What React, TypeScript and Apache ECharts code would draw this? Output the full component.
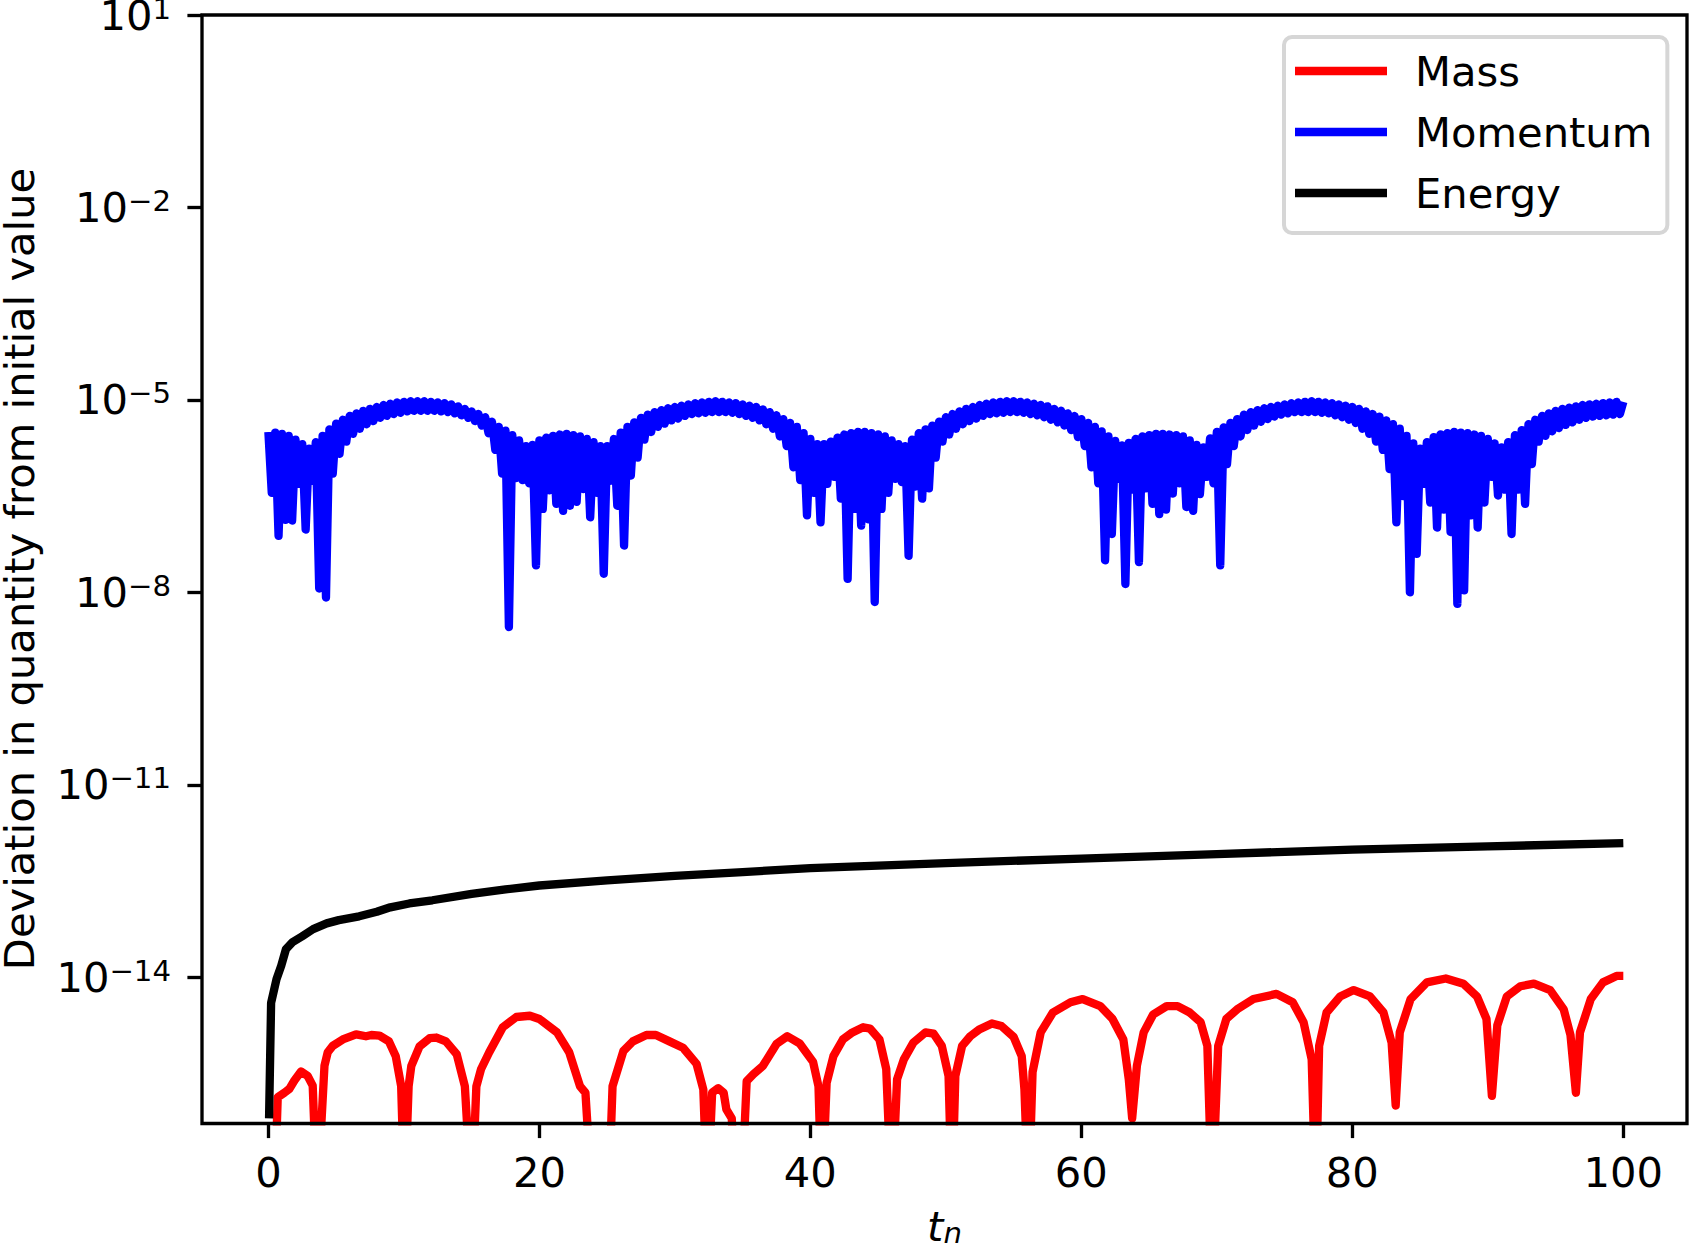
import React, { useEffect, useRef } from 'react';
import * as echarts from 'echarts';

// ---------- data (y values are log10 of the deviation) ----------
const seriesNames = ['Mass', 'Momentum', 'Energy'];
const seriesColors = ['#ff0000', '#0000ff', '#000000'];
const xTicks = [0, 20, 40, 60, 80, 100];
const yTickExponents = [-14, -11, -8, -5, -2, 1];
const xTitle = 't_n';
const yTitle = 'Deviation in quantity from initial value';

// Mass: [t, log10(deviation)]; -17.5 = dropped below the axis (exact zero)
const massSamples: [number, number][] = [
  [0.44, -17.5], [0.69, -15.87], [1.18, -15.8], [1.55, -15.74], [1.92, -15.61], [2.41, -15.47], [2.9, -15.54], [3.27, -15.69],
  [3.6, -17.5], [4.14, -15.38], [4.38, -15.17], [4.75, -15.07], [5.49, -14.97], [6.47, -14.89], [7.2, -14.92], [7.6, -14.9],
  [8.2, -14.91], [8.9, -15.0], [9.4, -15.23], [9.8, -15.7], [10.05, -17.5], [10.35, -15.7], [10.55, -15.38], [11.15, -15.08],
  [11.9, -14.95], [12.4, -14.94], [13.1, -15.0], [13.9, -15.2], [14.5, -15.7], [15.0, -17.5], [15.35, -15.7], [15.7, -15.43],
  [16.3, -15.17], [17.3, -14.78], [18.3, -14.62], [19.3, -14.6], [20.0, -14.65], [21.3, -14.86], [22.2, -15.17], [23.0, -15.7],
  [23.4, -15.8], [23.9, -17.5], [25.1, -17.5], [25.4, -15.7], [26.2, -15.15], [26.9, -15.0], [27.9, -14.9], [28.6, -14.9],
  [29.6, -15.0], [30.6, -15.1], [31.6, -15.35], [32.1, -15.75], [32.4, -17.5], [32.75, -15.8], [33.2, -15.73], [33.6, -15.8],
  [33.8, -16.06], [34.2, -16.2], [34.5, -17.5], [34.9, -17.5], [35.3, -15.62], [35.8, -15.51], [36.5, -15.38], [37.5, -15.04],
  [38.3, -14.92], [39.2, -15.03], [40.2, -15.32], [40.6, -15.7], [40.85, -17.5], [41.2, -15.65], [41.7, -15.23], [42.4, -14.97],
  [43.1, -14.86], [43.9, -14.78], [44.4, -14.8], [45.1, -14.97], [45.6, -15.43], [46.0, -17.5], [46.4, -15.59], [46.9, -15.28],
  [47.6, -15.02], [48.5, -14.86], [49.1, -14.88], [49.7, -15.07], [50.2, -15.54], [50.45, -17.5], [50.7, -15.54], [51.2, -15.07],
  [51.8, -14.92], [52.5, -14.81], [53.4, -14.72], [54.1, -14.76], [55.0, -14.93], [55.6, -15.23], [55.8, -15.75], [56.1, -17.5],
  [56.4, -15.48], [57.0, -14.86], [57.9, -14.55], [59.2, -14.39], [60.1, -14.34], [61.4, -14.45], [62.3, -14.65], [63.1, -14.97],
  [63.5, -15.59], [63.75, -16.2], [64.1, -15.38], [64.6, -14.86], [65.3, -14.58], [66.3, -14.45], [67.1, -14.45], [68.0, -14.55],
  [68.8, -14.7], [69.3, -15.07], [69.65, -17.5], [70.1, -15.07], [70.7, -14.65], [71.5, -14.5], [72.7, -14.34], [74.4, -14.26],
  [75.6, -14.39], [76.4, -14.7], [77.0, -15.28], [77.3, -17.5], [77.55, -15.07], [78.1, -14.55], [79.1, -14.3], [80.1, -14.2],
  [81.3, -14.3], [82.3, -14.55], [82.9, -15.02], [83.2, -16.0], [83.5, -14.86], [84.3, -14.34], [85.5, -14.08], [86.9, -14.02],
  [88.2, -14.1], [89.2, -14.3], [89.9, -14.65], [90.3, -15.85], [90.7, -14.75], [91.4, -14.3], [92.4, -14.14], [93.4, -14.1],
  [94.6, -14.2], [95.6, -14.5], [96.1, -14.9], [96.5, -15.8], [96.8, -14.86], [97.6, -14.34], [98.5, -14.08], [99.5, -13.98],
  [100, -13.98],
];

// Energy: [t, log10(deviation)]
const energySamples: [number, number][] = [
  [0.05, -16.2], [0.2, -14.4], [0.6, -14.03], [0.95, -13.82], [1.3, -13.56], [1.8, -13.45], [2.5, -13.36], [3.3, -13.25],
  [4.3, -13.16], [5.2, -13.11], [6.7, -13.05], [8.0, -12.98], [9.0, -12.91], [10.4, -12.85], [12.1, -12.8], [15.0, -12.7],
  [17.5, -12.63], [20.0, -12.57], [25.0, -12.49], [30.0, -12.42], [35.0, -12.36], [40.0, -12.3], [50.0, -12.22],
  [60.0, -12.15], [70.0, -12.08], [80.0, -12.01], [90.0, -11.96], [100.0, -11.91],
];

// Momentum oscillates rapidly: local maxima at t = 0, 0.5, ..., 100 and
// local minima at t = 0.25, 0.75, ..., 99.75 (log10 values)
const MOMENTUM_STEP = 0.5;
const momentumPeaks = [
  -5.50, -5.51, -5.53, -5.56, -5.62, -5.69, -5.76, -5.66, -5.56, -5.46,
  -5.37, -5.31, -5.25, -5.21, -5.17, -5.14, -5.11, -5.08, -5.06, -5.04,
  -5.03, -5.02, -5.02, -5.02, -5.03, -5.04, -5.05, -5.07, -5.10, -5.14,
  -5.18, -5.22, -5.27, -5.34, -5.42, -5.48, -5.55, -5.63, -5.72, -5.70,
  -5.63, -5.59, -5.56, -5.54, -5.53, -5.55, -5.57, -5.61, -5.66, -5.72,
  -5.72, -5.61, -5.51, -5.42, -5.35, -5.28, -5.23, -5.19, -5.16, -5.13,
  -5.11, -5.09, -5.07, -5.05, -5.04, -5.03, -5.02, -5.03, -5.04, -5.05,
  -5.07, -5.09, -5.11, -5.15, -5.19, -5.24, -5.30, -5.36, -5.42, -5.52,
  -5.61, -5.69, -5.69, -5.65, -5.59, -5.54, -5.52, -5.50, -5.50, -5.52,
  -5.54, -5.57, -5.63, -5.69, -5.72, -5.62, -5.52, -5.46, -5.40, -5.34,
  -5.27, -5.22, -5.18, -5.14, -5.11, -5.08, -5.06, -5.04, -5.03, -5.02,
  -5.02, -5.03, -5.04, -5.06, -5.08, -5.10, -5.14, -5.17, -5.21, -5.25,
  -5.30, -5.36, -5.42, -5.49, -5.57, -5.64, -5.71, -5.67, -5.61, -5.57,
  -5.55, -5.53, -5.53, -5.54, -5.55, -5.57, -5.63, -5.70, -5.74, -5.60,
  -5.50, -5.43, -5.36, -5.30, -5.23, -5.19, -5.16, -5.13, -5.11, -5.09,
  -5.07, -5.05, -5.04, -5.03, -5.02, -5.03, -5.04, -5.05, -5.07, -5.09,
  -5.11, -5.14, -5.18, -5.22, -5.26, -5.32, -5.38, -5.45, -5.56, -5.68,
  -5.76, -5.66, -5.58, -5.54, -5.52, -5.50, -5.51, -5.52, -5.54, -5.56,
  -5.61, -5.68, -5.74, -5.66, -5.55, -5.47, -5.38, -5.31, -5.25, -5.21,
  -5.17, -5.14, -5.12, -5.10, -5.08, -5.07, -5.06, -5.05, -5.04, -5.03,
  -5.03,
];
const momentumTroughs = [
  -6.45, -7.12, -6.87, -6.88, -6.31, -7.02, -6.26, -7.94, -8.08, -6.15,
  -5.84, -5.65, -5.53, -5.45, -5.38, -5.33, -5.28, -5.25, -5.22, -5.20,
  -5.18, -5.17, -5.17, -5.17, -5.17, -5.18, -5.19, -5.21, -5.24, -5.28,
  -5.33, -5.40, -5.52, -5.78, -6.15, -8.54, -6.22, -6.25, -6.30, -7.58,
  -6.70, -6.41, -6.62, -6.73, -6.65, -6.59, -6.39, -6.83, -6.45, -7.71,
  -6.26, -6.65, -7.27, -6.18, -5.90, -5.62, -5.50, -5.42, -5.37, -5.32,
  -5.29, -5.25, -5.22, -5.21, -5.20, -5.19, -5.19, -5.19, -5.20, -5.22,
  -5.25, -5.28, -5.32, -5.38, -5.45, -5.57, -5.72, -6.05, -6.25, -6.80,
  -6.45, -6.91, -6.31, -6.20, -6.54, -7.79, -6.70, -6.96, -6.86, -8.15,
  -6.70, -6.45, -6.23, -6.28, -7.43, -6.35, -6.54, -6.38, -5.90, -5.65,
  -5.54, -5.45, -5.38, -5.33, -5.29, -5.25, -5.22, -5.21, -5.20, -5.19,
  -5.19, -5.20, -5.22, -5.24, -5.27, -5.31, -5.35, -5.40, -5.47, -5.58,
  -5.72, -6.05, -6.30, -7.50, -7.09, -6.23, -7.87, -6.40, -7.53, -6.38,
  -6.62, -6.78, -6.71, -6.46, -6.30, -6.67, -6.73, -6.47, -6.20, -6.30,
  -7.58, -6.00, -5.72, -5.57, -5.47, -5.40, -5.34, -5.30, -5.26, -5.23,
  -5.21, -5.19, -5.19, -5.19, -5.19, -5.20, -5.21, -5.24, -5.27, -5.31,
  -5.36, -5.45, -5.53, -5.65, -5.78, -6.08, -6.91, -6.50, -8.00, -7.40,
  -6.31, -6.60, -6.99, -6.71, -7.06, -8.18, -7.97, -6.80, -6.99, -6.60,
  -6.20, -6.49, -6.40, -7.09, -6.40, -6.62, -6.00, -5.65, -5.56, -5.49,
  -5.44, -5.39, -5.35, -5.31, -5.28, -5.26, -5.25, -5.24, -5.23, -5.22,
];

// ---------- styling constants ----------
const FONT = 'DejaVu Sans';
const FS = 41.67;
const SUP_FS = 29.2;
const LW = 8.33;
const AXW = 3.33;
const TICK_LEN = 14.6;

function buildMomentum(): [number, number][] {
  const out: [number, number][] = [];
  for (let i = 0; i < momentumPeaks.length; i++) {
    out.push([i * MOMENTUM_STEP, momentumPeaks[i]]);
    if (i < momentumTroughs.length) {
      out.push([i * MOMENTUM_STEP + MOMENTUM_STEP / 2, momentumTroughs[i]]);
    }
  }
  return out;
}

function expLabel(v: number): string {
  const e = Math.round(v);
  const s = e < 0 ? '\u2212' + Math.abs(e) : String(e);
  return `{b|10}{s|${s}}`;
}

export default function App() {
  const ref = useRef<HTMLDivElement>(null);

  useEffect(() => {
    document.body.style.margin = '0';
    if (!ref.current) return;
    const chart = echarts.init(ref.current, undefined, { renderer: 'svg' });

    const seriesData = [massSamples, buildMomentum(), energySamples];

    const option: any = {
      animation: false,
      backgroundColor: '#ffffff',
      grid: {
        left: 202,
        top: 15,
        width: 1485,
        height: 1108.5,
        show: true,
        borderColor: '#000000',
        borderWidth: AXW,
        backgroundColor: 'transparent',
        containLabel: false,
        outerBoundsMode: 'none',
        z: 6,
      },
      xAxis: {
        type: 'value',
        min: -4.9,
        max: 104.7,
        z: 6,
        axisLine: { show: false, onZero: false },
        splitLine: { show: false },
        axisTick: {
          show: true,
          customValues: xTicks,
          length: TICK_LEN,
          lineStyle: { color: '#000000', width: AXW },
        },
        axisLabel: {
          customValues: xTicks,
          margin: 28,
          fontFamily: FONT,
          fontSize: FS,
          lineHeight: 42,
          color: '#000000',
        },
      },
      yAxis: {
        type: 'value',
        min: -16.28,
        max: 1,
        z: 6,
        axisLine: { show: false, onZero: false },
        splitLine: { show: false },
        axisTick: {
          show: true,
          customValues: yTickExponents,
          length: TICK_LEN,
          lineStyle: { color: '#000000', width: AXW },
        },
        axisLabel: {
          customValues: yTickExponents,
          margin: 31,
          formatter: (v: number) => expLabel(v),
          rich: {
            b: { fontFamily: FONT, fontSize: FS, lineHeight: 42, color: '#000000' },
            s: { fontFamily: FONT, fontSize: SUP_FS, lineHeight: 25, verticalAlign: 'top', color: '#000000' },
          },
        },
      },
      legend: {
        data: seriesNames,
        orient: 'vertical',
        left: 1284,
        top: 37,
        padding: [13, 15, 19, 11],
        itemWidth: 92,
        itemHeight: LW,
        itemGap: 19,
        icon: 'rect',
        selectedMode: false,
        backgroundColor: '#ffffff',
        borderColor: '#d6d6d6',
        borderWidth: 4,
        borderRadius: 8,
        z: 8,
        textStyle: {
          fontFamily: FONT,
          fontSize: FS,
          lineHeight: 42,
          color: '#000000',
          padding: [0, 0, 0, 23],
        },
      },
      graphic: [
        {
          type: 'text',
          x: 19,
          y: 569,
          rotation: Math.PI / 2,
          silent: true,
          style: {
            text: yTitle,
            fontFamily: FONT,
            fontSize: FS,
            fill: '#000000',
            align: 'center',
            verticalAlign: 'middle',
          },
        },
        {
          type: 'text',
          x: 944.5,
          y: 1226,
          silent: true,
          style: {
            text: '{t|' + xTitle.split('_')[0] + '}{n|' + xTitle.split('_')[1] + '}',
            align: 'center',
            verticalAlign: 'middle',
            rich: {
              t: { fontFamily: FONT, fontStyle: 'italic', fontSize: FS, lineHeight: 42, fill: '#000000', color: '#000000' },
              n: { fontFamily: FONT, fontStyle: 'italic', fontSize: SUP_FS, lineHeight: 23, verticalAlign: 'bottom', fill: '#000000', color: '#000000' },
            },
          },
        },
        {
          // hides the line overflow that ECharts' clip rect lets through under the bottom spine
          type: 'rect',
          z: 5,
          silent: true,
          shape: { x: 204, y: 1125.4, width: 1481, height: 3.2 },
          style: { fill: '#ffffff' },
        },
      ],
      series: seriesNames.map((name, i) => ({
        name,
        type: 'line',
        data: seriesData[i],
        symbol: 'none',
        showSymbol: false,
        silent: true,
        clip: true,
        z: 2,
        itemStyle: { color: seriesColors[i] },
        lineStyle: { color: seriesColors[i], width: LW, join: 'round', cap: 'butt' },
      })),
    };

    chart.setOption(option);
    return () => chart.dispose();
  }, []);

  return (
    <div
      ref={ref}
      style={{ position: 'fixed', left: 0, top: 0, width: 1691, height: 1253, background: '#ffffff' }}
    />
  );
}
